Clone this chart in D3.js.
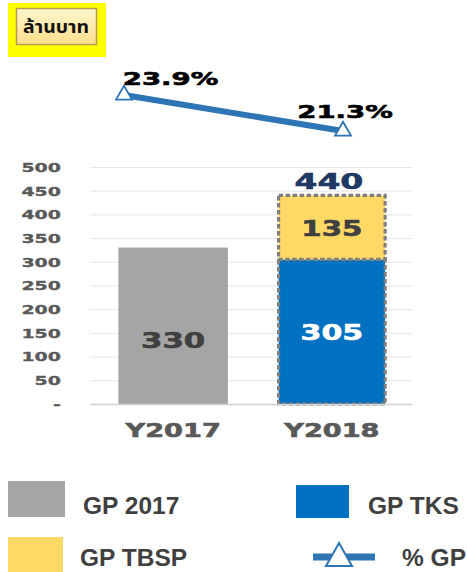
<!DOCTYPE html>
<html><head><meta charset="utf-8">
<script src="https://cdn.jsdelivr.net/npm/d3@7"></script>
<style>
html,body{margin:0;padding:0;background:#fff;}
svg{display:block;}
</style></head>
<body>
<script>
const categories = ["Y2017", "Y2018"];
const gp2017 = [330, 0];
const gpTKS = [0, 305];
const gpTBSP = [0, 135];
const totals = [null, 440];
const pctGP = [23.9, 21.3];
const pctLabels = ["23.9%", "21.3%"];
const yTicks = [0, 50, 100, 150, 200, 250, 300, 350, 400, 450, 500];
const legendItems = ["GP 2017", "GP TKS", "GP TBSP", "% GP"];
const unitLabel = "ล้านบาท";

const W = 467, H = 572;
const svg = d3.select("body").append("svg").attr("width", W).attr("height", H);
const defs = svg.append("defs");
const grad = defs.append("linearGradient").attr("id","btn").attr("x1",0).attr("y1",0).attr("x2",0).attr("y2",1);
grad.append("stop").attr("offset","0%").attr("stop-color","#FFF6CC");
grad.append("stop").attr("offset","100%").attr("stop-color","#FFDF8C");

// unit label box
svg.append("rect").attr("x",8).attr("y",3).attr("width",98).attr("height",54).attr("fill","#FFFF00");
svg.append("rect").attr("x",16.5).attr("y",8.5).attr("width",80).attr("height",36).attr("fill","url(#btn)")
  .attr("stroke","#B89A55").attr("stroke-width",1.5);
svg.append("text").attr("transform","translate(56,33) scale(1.08,1)").attr("text-anchor","middle")
  .attr("font-family","Tahoma, 'Noto Sans Thai', 'Noto Sans', 'DejaVu Sans', sans-serif")
  .attr("font-size",18).attr("font-weight","bold").attr("fill","#111").text(unitLabel);

const x = d3.scaleBand().domain(categories).range([93, 412]).paddingInner(0.31).paddingOuter(0.16);
const y = d3.scaleLinear().domain([0, 500]).range([404, 167]);

const numFont = "'DejaVu Sans', Verdana, sans-serif";

// helper for horizontally stretched, heavy text
function stretched(g, cx, cy, sx, txt, size, fill, anchor) {
  return g.append("text")
    .attr("transform", `translate(${cx},${cy}) scale(${sx},1)`)
    .attr("text-anchor", anchor || "middle")
    .attr("font-family", numFont).attr("font-weight", "bold")
    .attr("font-size", size).attr("fill", fill)
    .attr("stroke", fill).attr("stroke-width", 0.6).attr("paint-order","stroke")
    .text(txt);
}

// gridlines
svg.append("g").selectAll("line").data(yTicks.filter(d=>d>0)).join("line")
  .attr("x1",90).attr("x2",412).attr("y1",d=>y(d)+0.5).attr("y2",d=>y(d)+0.5)
  .attr("stroke","#E6E6E6").attr("stroke-width",1);

// y axis labels
const yAxis = d3.axisLeft(y).tickValues(yTicks).tickSize(0).tickPadding(0)
  .tickFormat(d => d === 0 ? "-" : d);
const ya = svg.append("g").attr("transform","translate(61,0)").call(yAxis);
ya.select(".domain").remove();
ya.selectAll("text").attr("font-family",numFont).attr("font-size",12).attr("font-weight","bold")
  .attr("fill","#595959").attr("stroke","#595959").attr("stroke-width",0.3)
  .attr("dy","0.36em").attr("x",0).attr("transform","scale(1.58,1)");

// bars
const bw = x.bandwidth();
svg.append("g").selectAll("rect").data(categories.map((c,i)=>({c,v:gp2017[i]})).filter(d=>d.v>0)).join("rect")
  .attr("x",d=>x(d.c)).attr("width",bw).attr("y",d=>y(d.v)).attr("height",d=>y(0)-y(d.v)).attr("fill","#A5A5A5");

const stackG = svg.append("g");
categories.forEach((c,i)=>{
  if (gpTKS[i] > 0) {
    stackG.append("rect").attr("x",x(c)+1.5).attr("width",bw-3).attr("y",y(gpTKS[i])).attr("height",y(0)-y(gpTKS[i]))
      .attr("fill","#0070C0").attr("stroke","#7F7F7F").attr("stroke-width",3.2).attr("stroke-dasharray","4.5,2.5");
  }
  if (gpTBSP[i] > 0) {
    const top = gpTKS[i] + gpTBSP[i];
    stackG.append("rect").attr("x",x(c)+1.5).attr("width",bw-3).attr("y",y(top)).attr("height",y(gpTKS[i])-y(top))
      .attr("fill","#FFD966").attr("stroke","#7F7F7F").attr("stroke-width",3.2).attr("stroke-dasharray","4.5,2.5");
  }
});

// baseline axis
svg.append("line").attr("x1",90).attr("x2",412).attr("y1",y(0)+0.5).attr("y2",y(0)+0.5)
  .attr("stroke","#D0D0D0").attr("stroke-width",1.5);

// value labels
const lbl = svg.append("g");
categories.forEach((c,i)=>{
  const cx = x(c) + bw/2;
  if (gp2017[i] > 0) stretched(lbl, cx, y(gp2017[i]/2) + 22, 1.43, gp2017[i], 21.5, "#404040");
  if (gpTKS[i] > 0) stretched(lbl, cx, y(gpTKS[i]/2) + 8, 1.43, gpTKS[i], 21, "#FFFFFF");
  if (gpTBSP[i] > 0) stretched(lbl, cx, y(gpTKS[i]+gpTBSP[i]/2) + 8.5, 1.43, gpTBSP[i], 20.5, "#404040");
  if (totals[i] != null) stretched(lbl, cx - 3, y(totals[i]) - 6, 1.5, totals[i], 22, "#1F3864");
});

// category labels
const catG = svg.append("g");
categories.forEach(c => stretched(catG, x(c)+bw/2, 437, 1.43, c, 19, "#595959"));

// % GP line
const xl = d3.scalePoint().domain(categories).range([124, 343]);
const yl = d3.scaleLinear().domain([21.3, 23.9]).range([131, 95]);
const line = d3.line().x((d,i)=>xl(categories[i])).y(d=>yl(d));
svg.append("path").datum(pctGP).attr("d",line).attr("fill","none").attr("stroke","#2E75B6").attr("stroke-width",6);
const tri = d3.symbol().type(d3.symbolTriangle).size(110);
svg.append("g").selectAll("path").data(pctGP).join("path")
  .attr("transform",(d,i)=>`translate(${xl(categories[i])},${yl(d)})`)
  .attr("d",tri).attr("fill","#fff").attr("stroke","#2E75B6").attr("stroke-width",1.8);
const pctG = svg.append("g");
const pctDx = [46.5, 2], pctDy = [-10, -13];
pctGP.forEach((d,i)=> stretched(pctG, xl(categories[i]) + pctDx[i], yl(d) + pctDy[i], 1.53, pctLabels[i], 18, "#000"));

// legend
const lf = "'Liberation Sans', Arial, sans-serif";
const leg = svg.append("g");
leg.append("rect").attr("x",8).attr("y",481).attr("width",57).attr("height",36).attr("fill","#A5A5A5");
leg.append("text").attr("x",83).attr("y",505).attr("dy","0.35em").text(legendItems[0]);
leg.append("rect").attr("x",296).attr("y",485).attr("width",53).attr("height",33).attr("fill","#0070C0");
leg.append("text").attr("x",368).attr("y",505).attr("dy","0.35em").text(legendItems[1]);
leg.append("rect").attr("x",8).attr("y",537).attr("width",55).attr("height",40).attr("fill","#FFD966");
leg.append("text").attr("x",80).attr("y",557).attr("dy","0.35em").text(legendItems[2]);
leg.append("line").attr("x1",313).attr("x2",375).attr("y1",557).attr("y2",557).attr("stroke","#2E75B6").attr("stroke-width",7);
leg.append("path").attr("d","M339,543 L352,566 L326,566 Z").attr("fill","#fff").attr("stroke","#2E75B6").attr("stroke-width",2);
leg.append("text").attr("x",402).attr("y",557).attr("dy","0.35em").text(legendItems[3]);
leg.selectAll("text").attr("font-family",lf).attr("font-weight","bold").attr("font-size",24.5).attr("fill","#404040");
</script>
</body></html>
